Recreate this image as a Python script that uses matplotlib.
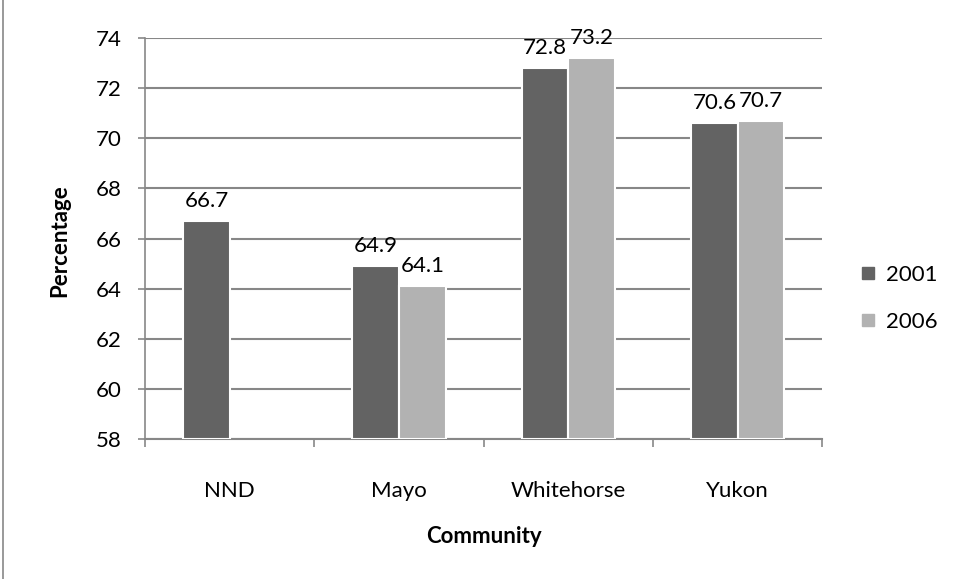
import matplotlib.pyplot as plt
import numpy as np
from matplotlib.lines import Line2D

plt.rcParams['font.family'] = ['Lato', 'DejaVu Sans']

communities = ['NND', 'Mayo', 'Whitehorse', 'Yukon']
years = ['2001', '2006']
pct_2001 = [66.7, 64.9, 72.8, 70.6]
pct_2006 = [None, 64.1, 73.2, 70.7]
colors = ['#636363', '#b2b2b2']

fig = plt.figure(figsize=(9.54, 5.79), dpi=100)
ax = fig.add_axes([0.152, 0.242, 0.710, 0.692])

x = np.arange(len(communities))
w = 0.275
fs = 16
for i, (vals, c) in enumerate(zip([pct_2001, pct_2006], colors)):
    pos = [xi + (i - 0.5) * w for xi, v in zip(x, vals) if v is not None]
    vv = [v for v in vals if v is not None]
    ax.bar(pos, [v - 58 for v in vv], w, bottom=58, color=c,
           edgecolor='white', linewidth=1.5, label=years[i], zorder=3)
    for p, v in zip(pos, vv):
        ax.text(p, v + 0.4, f'{v}', ha='center', va='bottom', fontsize=fs)

ax.set_ylim(58, 74)
ax.set_xlim(-0.5, 3.5)
ax.set_yticks(range(58, 75, 2))
ax.set_xticks(np.arange(-0.5, 4, 1))
ax.set_xticklabels([])
ax.tick_params(axis='x', length=6, color='#878787', width=1.2)
ax.tick_params(axis='y', length=5, color='#878787', width=1.2, labelsize=fs, pad=12)
for xi, name in zip(x, communities):
    ax.text(xi, -0.13, name, transform=ax.get_xaxis_transform(), ha='center', va='center', fontsize=fs)
ax.yaxis.grid(True, color='#878787', linewidth=1.5, zorder=0)
for s in ['top', 'right']:
    ax.spines[s].set_visible(False)
ax.spines['left'].set_color('#878787')
ax.spines['bottom'].set_color('#878787')
ax.spines['left'].set_linewidth(1.2)
ax.spines['bottom'].set_linewidth(1.5)

fig.text(0.063, 0.585, 'Percentage', rotation=90, ha='center', va='center', fontsize=fs, fontweight='bold')
fig.text(0.507, 0.074, 'Community', ha='center', va='center', fontsize=fs, fontweight='bold')

handles = [Line2D([], [], marker='s', linestyle='', markersize=8, color=c) for c in colors]
fig.legend(handles, years, loc='center left', bbox_to_anchor=(0.877, 0.485), frameon=False,
           fontsize=fs, handletextpad=0.3, labelspacing=1.2, handlelength=1.0)

fig.add_artist(Line2D([0.003, 0.003], [0, 1], color='#878787', linewidth=1.2, transform=fig.transFigure))

fig.savefig('out.png', dpi=100)
